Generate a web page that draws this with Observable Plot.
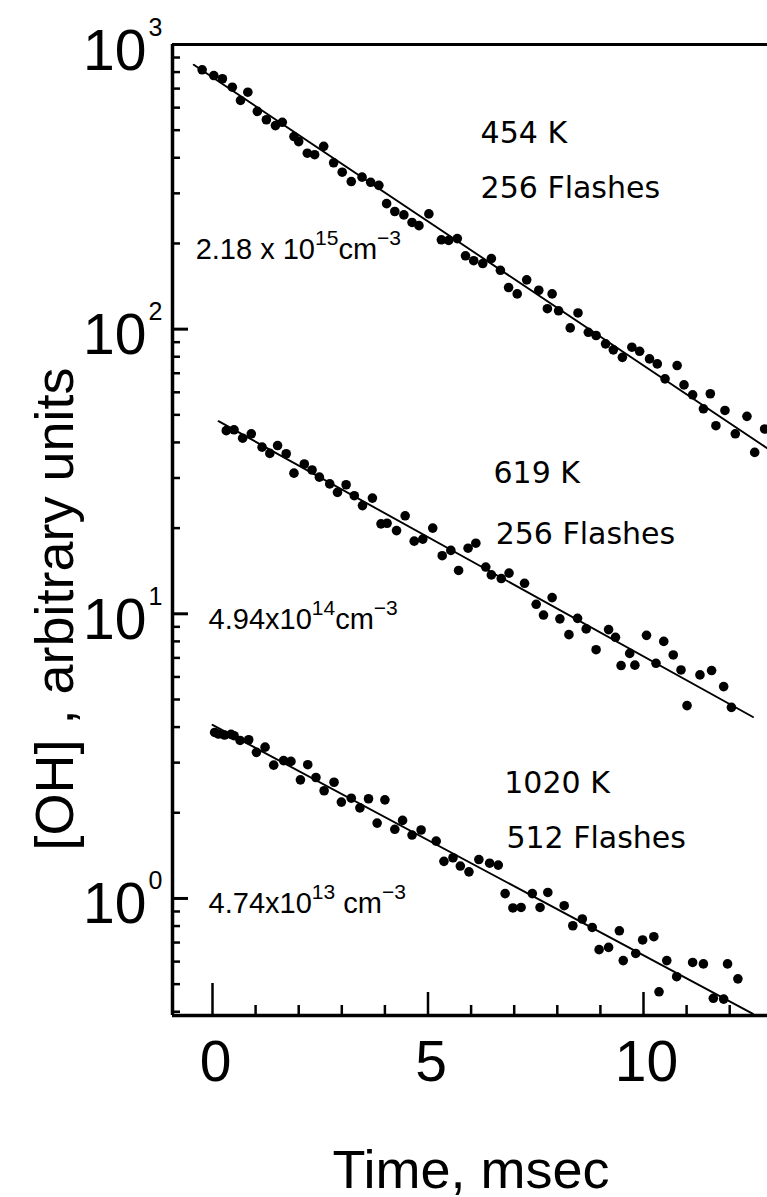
<!DOCTYPE html>
<html>
<head>
<meta charset="utf-8">
<script src="https://cdn.jsdelivr.net/npm/d3@7"></script>
<script src="https://cdn.jsdelivr.net/npm/@observablehq/plot@0.6"></script>
<style>
  html, body { margin: 0; padding: 0; background: #fff; }
  #chart svg { display: block; }
</style>
</head>
<body>
<div id="chart"></div>
<script>
// OH decay after the photolysis flash, three temperatures.
// Time in msec, [OH] in arbitrary units (log scale).

const t454 = [-0.24, 0.03, 0.23, 0.46, 0.65, 0.82, 1.04, 1.25, 1.46, 1.62, 1.89, 2.00, 2.20, 2.37, 2.58,
  2.81, 3.01, 3.22, 3.47, 3.67, 3.86, 4.04, 4.23, 4.44, 4.63, 4.79, 5.02, 5.31, 5.48, 5.68,
  5.87, 6.06, 6.27, 6.47, 6.68, 6.87, 7.07, 7.29, 7.57, 7.77, 7.88, 8.03, 8.30, 8.48, 8.72,
  8.90, 9.12, 9.30, 9.51, 9.73, 9.91, 10.14, 10.32, 10.50, 10.78, 10.94, 11.14, 11.39, 11.55, 11.68,
  11.89, 12.13, 12.40, 12.58, 12.81];
const oh454 = [815, 778, 758, 708, 636, 680, 582, 544, 519, 533, 475, 456, 415, 410, 439,
  384, 356, 330, 342, 328, 320, 276, 259, 252, 237, 231, 254, 206, 205, 208,
  181, 174, 170, 177, 161, 140, 133, 149, 137, 118, 133, 116, 101, 114, 97.5,
  95, 88.8, 84.6, 79.6, 86.4, 83.6, 78.6, 75.5, 66.9, 74.5, 63.7, 58.8, 52.5, 59.3, 45.8,
  51.8, 42.9, 49.4, 36.9, 44.6];

const t619 = [0.32, 0.50, 0.70, 0.90, 1.15, 1.33, 1.51, 1.71, 1.89, 2.13, 2.31, 2.48, 2.72, 2.90, 3.10,
  3.29, 3.48, 3.71, 3.91, 4.05, 4.27, 4.47, 4.68, 4.88, 5.11, 5.33, 5.53, 5.71, 5.93, 6.11,
  6.34, 6.47, 6.70, 6.88, 7.24, 7.51, 7.68, 7.88, 8.06, 8.27, 8.47, 8.67, 8.90, 9.19, 9.35,
  9.48, 9.68, 9.80, 10.07, 10.29, 10.47, 10.69, 10.87, 11.01, 11.31, 11.58, 11.86, 12.04];
const oh619 = [44.0, 44.3, 41.4, 42.9, 38.5, 36.6, 39.0, 36.5, 31.2, 33.6, 32.0, 30.2, 28.6, 26.7, 28.4,
  26.0, 24.0, 25.5, 20.7, 20.8, 19.6, 22.1, 18.0, 18.3, 20.0, 16.0, 16.7, 14.2, 17.0, 17.7,
  14.6, 13.7, 13.3, 13.9, 12.8, 10.8, 9.9, 11.4, 9.6, 8.45, 9.64, 8.85, 7.48, 8.8, 8.27,
  6.58, 7.26, 6.6, 8.4, 6.70, 8.00, 7.17, 6.35, 4.76, 6.10, 6.32, 5.55, 4.69];

const t1020 = [0.05, 0.14, 0.28, 0.43, 0.50, 0.64, 0.84, 1.02, 1.22, 1.42, 1.65, 1.82, 2.04, 2.21, 2.40,
  2.59, 2.82, 2.99, 3.22, 3.42, 3.62, 3.82, 4.00, 4.23, 4.41, 4.63, 4.84, 5.19, 5.37, 5.58,
  5.75, 5.95, 6.18, 6.43, 6.63, 6.79, 6.97, 7.16, 7.42, 7.60, 7.78, 8.16, 8.36, 8.58, 8.81,
  8.97, 9.19, 9.44, 9.53, 9.82, 9.98, 10.24, 10.36, 10.54, 10.77, 11.14, 11.39, 11.62, 11.86, 11.95,
  12.19];
const oh1020 = [3.83, 3.78, 3.75, 3.77, 3.73, 3.59, 3.61, 3.26, 3.40, 2.94, 3.05, 3.03, 2.61, 2.95, 2.66,
  2.39, 2.56, 2.18, 2.25, 2.08, 2.24, 1.84, 2.22, 1.75, 1.88, 1.67, 1.74, 1.59, 1.35, 1.39,
  1.30, 1.24, 1.37, 1.33, 1.31, 1.04, 0.926, 0.93, 1.04, 0.93, 1.05, 0.943, 0.802, 0.847, 0.791,
  0.661, 0.673, 0.770, 0.605, 0.641, 0.715, 0.734, 0.470, 0.605, 0.531, 0.596, 0.589, 0.446, 0.443, 0.589,
  0.522];

// First-order decay fits (end points of each straight line on the log plot)
const fitT454 = [-0.435, 12.877];
const fitOH454 = [849, 38.1];
const fitT619 = [0.14, 12.54];
const fitOH619 = [47.5, 4.34];
const fitT1020 = [0.0, 12.54];
const fitOH1020 = [4.07, 0.393];

// Axis ticks and labels
const xDomain = [-0.928, 12.877];
const yDomain = [0.388, 1000];
const xMajor = [0, 5, 10];
const xMinor = [1, 2, 3, 4, 6, 7, 8, 9, 11, 12];
const yMajor = [1, 10, 100];
const yMinor = [0.4, 0.5, 0.6, 0.7, 0.8, 0.9, 2, 3, 4, 5, 6, 7, 8, 9,
  20, 30, 40, 50, 60, 70, 80, 90, 200, 300, 400, 500, 600, 700, 800, 900];
const yLabelValues = [1, 10, 100, 1000];
const yLabelExponents = ["0", "1", "2", "3"];

const xTitle = "Time, msec";
const yTitle = "[OH] , arbitrary units";

const temperatureLabels = ["454 K", "619 K", "1020 K"];
const flashLabels = ["256 Flashes", "256 Flashes", "512 Flashes"];
// ^{...} marks a superscript
const densityLabels = ["2.18 x 10^{15}cm^{−3}", "4.94x10^{14}cm^{−3}", "4.74x10^{13} cm^{−3}"];

// ---- tables built from the arrays above
const series = [
  {name: "454 K", t: t454, oh: oh454, ft: fitT454, foh: fitOH454},
  {name: "619 K", t: t619, oh: oh619, ft: fitT619, foh: fitOH619},
  {name: "1020 K", t: t1020, oh: oh1020, ft: fitT1020, foh: fitOH1020}
];
const points = series.flatMap(s => s.t.map((t, i) => ({series: s.name, t, oh: s.oh[i]})));
const fits = series.flatMap(s => s.ft.map((t, i) => ({series: s.name, t, oh: s.foh[i]})));

const supPattern = /\^\{([^}]*)\}/g;
const plainText = s => s.replace(supPattern, "$1");

// annotation anchors, in data coordinates (left edge, baseline)
const annotations = [
  {text: temperatureLabels[0], t: 6.22, oh: 449},
  {text: flashLabels[0], t: 6.22, oh: 288},
  {text: plainText(densityLabels[0]), t: -0.39, oh: 177, dense: true},
  {text: temperatureLabels[1], t: 6.52, oh: 28.7},
  {text: flashLabels[1], t: 6.57, oh: 17.6},
  {text: plainText(densityLabels[1]), t: -0.09, oh: 8.87, dense: true},
  {text: temperatureLabels[2], t: 6.77, oh: 2.35},
  {text: flashLabels[2], t: 6.82, oh: 1.51},
  {text: plainText(densityLabels[2]), t: -0.09, oh: 0.891, dense: true}
];

const W = 767, H = 1197;
const margin = {top: 44, right: 0, bottom: 182, left: 172};
const frameW = W - margin.left - margin.right;
const frameH = H - margin.top - margin.bottom;
const sans = "'Liberation Sans', Arial, sans-serif";
const wide = "'DejaVu Sans', Verdana, sans-serif";

const chart = Plot.plot({
  width: W,
  height: H,
  marginTop: margin.top,
  marginRight: margin.right,
  marginBottom: margin.bottom,
  marginLeft: margin.left,
  style: {background: "#fff", color: "#000", fontFamily: sans},
  x: {domain: xDomain, axis: null},
  y: {type: "log", domain: yDomain, axis: null},
  marks: [
    // frame: left axis, bottom axis, top edge
    Plot.ruleX([xDomain[0]], {stroke: "#000", strokeWidth: 3.5}),
    Plot.ruleY([yDomain[0]], {stroke: "#000", strokeWidth: 3.5}),
    Plot.ruleY([yDomain[1]], {stroke: "#000", strokeWidth: 3}),

    // inward ticks on the y axis
    Plot.tickY(yMajor, {y: d => d, insetRight: frameW - 16, stroke: "#000", strokeWidth: 3}),
    Plot.tickY(yMinor, {y: d => d, insetRight: frameW - 8, stroke: "#000", strokeWidth: 2.5}),

    // inward ticks on the x axis (the zero tick is drawn longer)
    Plot.tickX(xMajor.filter(d => d === 0), {x: d => d, insetTop: frameH - 32, stroke: "#000", strokeWidth: 2.5}),
    Plot.tickX(xMajor.filter(d => d !== 0), {x: d => d, insetTop: frameH - 23, stroke: "#000", strokeWidth: 2.5}),
    Plot.tickX(xMinor, {x: d => d, insetTop: frameH - 10, stroke: "#000", strokeWidth: 2.5}),

    // y tick labels: "10" with a raised exponent
    Plot.text(yLabelValues, {
      y: d => d, text: () => "10", frameAnchor: "left", textAnchor: "end",
      lineAnchor: "bottom", dx: -26, dy: 25, fontSize: 57, letterSpacing: -3, fill: "#000"
    }),
    Plot.text(yLabelValues, {
      y: d => d, text: (d, i) => yLabelExponents[i], frameAnchor: "left", textAnchor: "start",
      lineAnchor: "bottom", dx: -24, dy: -9, fontSize: 25, fill: "#000"
    }),

    // x tick labels
    Plot.text(xMajor, {
      x: d => d, text: d => String(d), frameAnchor: "bottom", lineAnchor: "bottom",
      dx: 3, dy: 65, fontSize: 57, letterSpacing: -3, fill: "#000"
    }),

    // axis titles
    Plot.text([xTitle], {
      text: d => d, frameAnchor: "bottom", textAnchor: "middle", lineAnchor: "bottom",
      dx: 1, dy: 172, fontSize: 54, fill: "#000"
    }),
    Plot.text([yTitle], {
      text: d => d, frameAnchor: "left", textAnchor: "middle", rotate: -90, lineAnchor: "bottom",
      dx: -100, dy: 79, fontSize: 54, fill: "#000"
    }),

    // fitted decays
    Plot.line(fits, {x: "t", y: "oh", z: "series", stroke: "#000", strokeWidth: 1.9}),

    // measured points
    Plot.dot(points, {x: "t", y: "oh", r: 4.8, fill: "#000", stroke: null}),

    // in-plot annotations
    Plot.text(annotations.filter(d => !d.dense), {
      x: "t", y: "oh", text: "text", textAnchor: "start", lineAnchor: "bottom",
      fontSize: 30, fontFamily: wide, fill: "#000"
    }),
    Plot.text(annotations.filter(d => d.dense), {
      x: "t", y: "oh", text: "text", textAnchor: "start", lineAnchor: "bottom",
      fontSize: 29, fontFamily: sans, fill: "#000", letterSpacing: -0.5
    })
  ]
});

// Set the exponents of the density labels as raised, smaller tspans.
d3.select(chart).selectAll("text").each(function () {
  const raw = densityLabels.find(l => plainText(l) === this.textContent);
  if (!raw) return;
  const el = d3.select(this);
  el.text(null);
  let raised = false;
  raw.split(/(\^\{[^}]*\})/).filter(p => p.length).forEach(part => {
    const m = part.match(/^\^\{(.*)\}$/);
    const span = el.append("tspan");
    if (m) {
      span.attr("font-size", 21).attr("dy", raised ? 0 : -14).text(m[1]);
      raised = true;
    } else {
      if (raised) span.attr("dy", 14);
      raised = false;
      span.text(part);
    }
  });
});

document.getElementById("chart").appendChild(chart);
</script>
</body>
</html>
